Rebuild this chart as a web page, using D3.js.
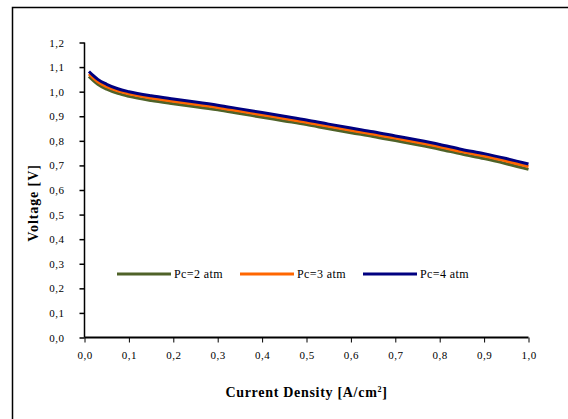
<!DOCTYPE html>
<html>
<head>
<meta charset="utf-8">
<script src="https://cdn.jsdelivr.net/npm/d3@7"></script>
<style>
  html, body { margin: 0; padding: 0; background: #fff; }
  svg { display: block; }
  text { font-family: "Liberation Serif", "Times New Roman", serif; fill: #000; }
</style>
</head>
<body>
<svg id="chart" width="568" height="419"></svg>
<script>
// Current density (A/cm²) sample points
const currentDensity = [0.01, 0.02, 0.03, 0.05, 0.075, 0.1, 0.15, 0.2, 0.25, 0.3, 0.35, 0.4,
  0.45, 0.5, 0.55, 0.6, 0.65, 0.7, 0.75, 0.8, 0.85, 0.9, 0.95, 1.0];

// Cell voltage (V) for each cathode pressure
const voltagePc2 = [1.062, 1.045, 1.030, 1.010, 0.993, 0.981, 0.964, 0.951, 0.939, 0.926, 0.911, 0.896,
  0.881, 0.866, 0.849, 0.833, 0.818, 0.801, 0.784, 0.766, 0.746, 0.728, 0.707, 0.684];
const voltagePc3 = [1.072, 1.055, 1.040, 1.020, 1.003, 0.991, 0.974, 0.961, 0.949, 0.936, 0.921, 0.906,
  0.891, 0.876, 0.859, 0.843, 0.828, 0.811, 0.794, 0.776, 0.756, 0.738, 0.718, 0.695];
const voltagePc4 = [1.082, 1.065, 1.050, 1.030, 1.012, 1.000, 0.983, 0.970, 0.958, 0.945, 0.930, 0.915,
  0.900, 0.885, 0.868, 0.852, 0.837, 0.820, 0.803, 0.785, 0.765, 0.748, 0.728, 0.706];

const seriesNames = ["Pc=2 atm", "Pc=3 atm", "Pc=4 atm"];
const seriesColors = ["#4F6228", "#FF6600", "#000080"];
const xTicks = [0, 0.1, 0.2, 0.3, 0.4, 0.5, 0.6, 0.7, 0.8, 0.9, 1.0];
const yTicks = [0, 0.1, 0.2, 0.3, 0.4, 0.5, 0.6, 0.7, 0.8, 0.9, 1.0, 1.1, 1.2];

const series = [voltagePc2, voltagePc3, voltagePc4].map((vals, i) => ({
  name: seriesNames[i],
  color: seriesColors[i],
  points: vals.map((v, j) => ({ x: currentDensity[j], y: v }))
}));

const svg = d3.select("#chart");

// outer frame (runs past the right and bottom edges)
svg.append("rect")
  .attr("x", 12.5).attr("y", 7.5)
  .attr("width", 600).attr("height", 500)
  .attr("fill", "none").attr("stroke", "#000").attr("stroke-width", 1.5);

const x = d3.scaleLinear().domain([0, 1]).range([84.5, 528.5]);
const y = d3.scaleLinear().domain([0, 1.2]).range([337.5, 42.5]);
const fmt = d => d3.format(".1f")(d).replace(".", ",");

// x axis
const xAxis = svg.append("g")
  .attr("transform", `translate(0,${y(0)})`)
  .call(d3.axisBottom(x).tickValues(xTicks).tickFormat(fmt).tickSize(5).tickPadding(9));
xAxis.select(".domain").attr("stroke-width", 2).attr("d", `M${x(0)},0H${x(1)}`);
xAxis.selectAll(".tick line").attr("stroke-width", 1);
xAxis.selectAll("text")
  .style("font-size", "11px").style("letter-spacing", "0.5px")
  .style("font-family", "Liberation Serif, serif");

// y axis
const yAxis = svg.append("g")
  .attr("transform", `translate(${x(0)},0)`)
  .call(d3.axisLeft(y).tickValues(yTicks).tickFormat(fmt).tickSize(5).tickPadding(15));
yAxis.select(".domain").attr("stroke-width", 1.5).attr("d", `M0,${y(1.2)}V${y(0)}`);
yAxis.selectAll(".tick line").attr("stroke-width", 1.5);
yAxis.selectAll("text")
  .style("font-size", "11px").style("letter-spacing", "0.5px")
  .style("font-family", "Liberation Serif, serif");

// curves
const line = d3.line().x(d => x(d.x)).y(d => y(d.y)).curve(d3.curveMonotoneX);
svg.append("g").selectAll("path")
  .data(series)
  .join("path")
  .attr("d", d => line(d.points))
  .attr("fill", "none")
  .attr("stroke", d => d.color)
  .attr("stroke-width", 3)
  .attr("stroke-linejoin", "round");

// legend
const legendY = 274;
const legendX = [117, 240, 363];
const legend = svg.append("g").selectAll("g")
  .data(series)
  .join("g")
  .attr("transform", (d, i) => `translate(${legendX[i]},${legendY})`);
legend.append("line")
  .attr("x1", 0).attr("x2", 54).attr("y1", 0).attr("y2", 0)
  .attr("stroke", d => d.color).attr("stroke-width", 3);
legend.append("text")
  .attr("x", 57).attr("y", 4)
  .style("font-size", "12px").style("letter-spacing", "0.4px")
  .text(d => d.name);

// axis titles
const xTitle = svg.append("text")
  .attr("x", (x(0) + x(1)) / 2).attr("y", 397)
  .attr("text-anchor", "middle")
  .style("font-size", "14px").style("font-weight", "bold").style("letter-spacing", "0.7px");
xTitle.append("tspan").text("Current Density [A/cm");
xTitle.append("tspan").attr("dy", -5).style("font-size", "8px").text("2");
xTitle.append("tspan").attr("dy", 5).text("]");

svg.append("text")
  .attr("transform", "translate(38,203) rotate(-90)")
  .attr("text-anchor", "middle")
  .style("font-size", "14px").style("font-weight", "bold").style("letter-spacing", "0.9px")
  .text("Voltage [V]");
</script>
</body>
</html>
